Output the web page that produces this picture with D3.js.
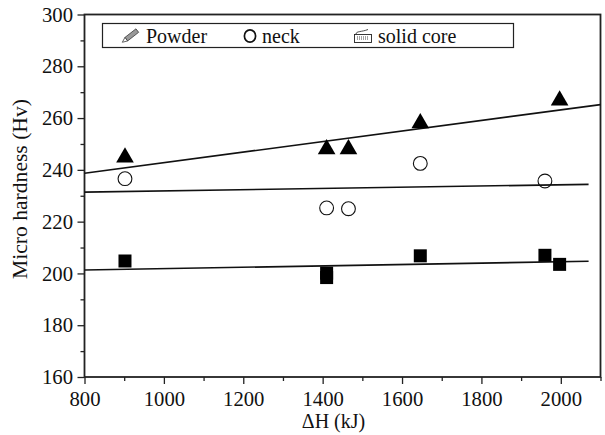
<!DOCTYPE html>
<html><head><meta charset="utf-8">
<script src="https://cdnjs.cloudflare.com/ajax/libs/d3/7.8.5/d3.min.js"></script>
<style>html,body{margin:0;background:#fff}svg{display:block}text{font-family:"Liberation Serif",serif;fill:#111}</style>
</head><body><svg id="c" width="605" height="435"></svg>
<script>
const xDomain=[800,2100], yDomain=[160,300];
const xTicks=[800,1000,1200,1400,1600,1800,2000];
const xMinor=[900,1100,1300,1500,1700,1900,2100];
const yTicks=[160,180,200,220,240,260,280,300];
const yMinor=[170,190,210,230,250,270,290];
const powderX=[902,1410,1465,1646,1997];
const powderY=[244.8,248,248,258,266.8];
const neckX=[902,1410,1465,1646,1960];
const neckY=[236.6,225.3,225,242.5,235.7];
const coreX=[902,1410,1410,1646,1960,1997];
const coreY=[204.8,200.1,198.4,206.8,207,203.5];
const powderFitX=[800,2100], powderFitY=[238.7,265.2];
const neckFitX=[800,2070], neckFitY=[231.4,234.4];
const coreFitX=[800,2070], coreFitY=[201.3,204.7];
const legendLabels=["Powder","neck","solid core"];

const svg=d3.select("#c");
const x=d3.scaleLinear().domain(xDomain).range([84.5,600.5]);
const y=d3.scaleLinear().domain(yDomain).range([377,14.5]);
const ink="#222";

function axis(gen,tr,vals,fmt){
  const g=svg.append("g").attr("transform",tr);
  g.call(gen.tickValues(vals).tickFormat(fmt).tickSize(7).tickPadding(4.5));
  g.select(".domain").remove();
  g.selectAll(".tick line").attr("stroke",ink).attr("stroke-width",1.3);
  g.selectAll(".tick text").attr("font-size",20.7).attr("font-family","Liberation Serif");
  return g;
}
const fmt=d3.format("d");
const gx=axis(d3.axisBottom(x),"translate(0,377)",xTicks,fmt);
gx.selectAll(".tick text").attr("y",13).attr("dy","0.78em");
const gy=axis(d3.axisLeft(y),"translate(84.5,0)",yTicks,fmt);
const gxm=svg.append("g").attr("transform","translate(0,377)")
  .call(d3.axisBottom(x).tickValues(xMinor).tickFormat("").tickSize(4));
gxm.select(".domain").remove();
gxm.selectAll("line").attr("stroke",ink).attr("stroke-width",1.3);
const gym=svg.append("g").attr("transform","translate(84.5,0)")
  .call(d3.axisLeft(y).tickValues(yMinor).tickFormat("").tickSize(4));
gym.select(".domain").remove();
gym.selectAll("line").attr("stroke",ink).attr("stroke-width",1.3);

svg.append("rect").attr("x",x(800)).attr("y",y(300))
  .attr("width",x(2100)-x(800)).attr("height",y(160)-y(300))
  .attr("fill","none").attr("stroke",ink).attr("stroke-width",1.8);

const line=d3.line().x(d=>x(d[0])).y(d=>y(d[1]));
[[powderFitX,powderFitY],[neckFitX,neckFitY],[coreFitX,coreFitY]].forEach(([a,b])=>{
  svg.append("path").attr("d",line(d3.zip(a,b))).attr("fill","none").attr("stroke","#111").attr("stroke-width",1.6);
});

const tri=d3.symbol().type(d3.symbolTriangle).size(135);
svg.append("g").selectAll("path").data(d3.zip(powderX,powderY)).join("path")
  .attr("d",tri).attr("fill","#000")
  .attr("transform",d=>`translate(${x(d[0])},${y(d[1])})`);
svg.append("g").selectAll("circle").data(d3.zip(neckX,neckY)).join("circle")
  .attr("cx",d=>x(d[0])).attr("cy",d=>y(d[1])).attr("r",6.9)
  .attr("fill","none").attr("stroke","#111").attr("stroke-width",1.1);
svg.append("g").selectAll("rect").data(d3.zip(coreX,coreY)).join("rect")
  .attr("x",d=>x(d[0])-6.5).attr("y",d=>y(d[1])-6.5).attr("width",13).attr("height",13).attr("fill","#000");

svg.append("text").attr("x",333.5).attr("y",428).attr("text-anchor","middle").attr("font-size",20).text("ΔH (kJ)");
svg.append("text").attr("transform","translate(27,189) rotate(-90)").attr("text-anchor","middle").attr("font-size",21.6).text("Micro hardness (Hv)");

svg.append("rect").attr("x",102.5).attr("y",23.5).attr("width",411).attr("height",24)
  .attr("fill","#fff").attr("stroke",ink).attr("stroke-width",1.2);
const lg=svg.append("g");
lg.append("text").attr("x",146).attr("y",42.5).attr("font-size",20).text(legendLabels[0]);
lg.append("text").attr("x",262).attr("y",42.5).attr("font-size",20).text(legendLabels[1]);
lg.append("text").attr("x",378).attr("y",42.5).attr("font-size",20).text(legendLabels[2]);
const pencil=lg.append("g").attr("transform","translate(131,35.5) rotate(-38)");
pencil.append("rect").attr("x",-6).attr("y",-2.2).attr("width",14).attr("height",4.4).attr("fill","#999").attr("stroke","#333").attr("stroke-width",.7);
pencil.append("path").attr("d","M-6,-2.2L-11,0L-6,2.2Z").attr("fill","#fff").attr("stroke","#333").attr("stroke-width",.7);
lg.append("ellipse").attr("cx",250).attr("cy",36).attr("rx",5.6).attr("ry",6.2).attr("fill","none").attr("stroke","#111").attr("stroke-width",1.7);
const kb=lg.append("g").attr("transform","translate(354,28)");
kb.append("rect").attr("x",0.5).attr("y",6.5).attr("width",17).attr("height",8).attr("fill","#fff").attr("stroke","#222").attr("stroke-width",.9);
kb.append("path").attr("d","M3,9H15M3,11H15").attr("stroke","#444").attr("stroke-dasharray","1 1");
kb.append("path").attr("d","M2,6C2,3 8,4 14,1.5").attr("fill","none").attr("stroke","#333").attr("stroke-width",.9);
</script></body></html>
